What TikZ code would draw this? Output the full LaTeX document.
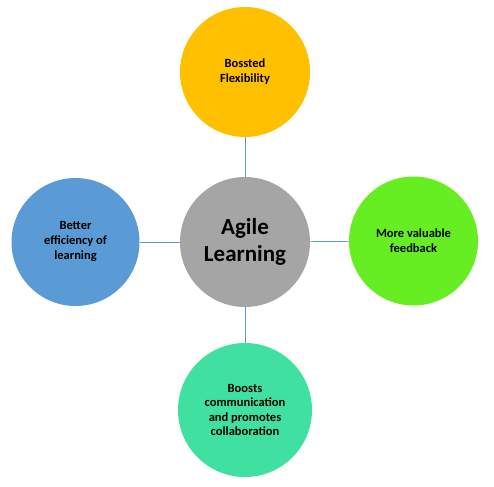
\documentclass[tikz,border=0pt]{standalone}
\usepackage{fontspec}
\setmainfont{Carlito}
\definecolor{cTop}{HTML}{FFC000}
\definecolor{cMid}{HTML}{A5A5A5}
\definecolor{cLeft}{HTML}{5B9BD5}
\definecolor{cRight}{HTML}{66EE22}
\definecolor{cBot}{HTML}{40E0A0}
\definecolor{cLine}{HTML}{5B9BD5}
\begin{document}
\begin{tikzpicture}[x=1pt,y=-1pt,
  bubble/.style={circle,minimum size=130pt,inner sep=0pt,align=center,
    font=\bfseries\fontsize{12.5}{15}\selectfont,text=black},
  link/.style={draw=cLine,line width=0.7pt}]
\useasboundingbox (0,0) rectangle (494,486);
\node[bubble,fill=cMid,font=\bfseries\fontsize{23}{27}\selectfont] (mid) at (245,242) {Agile\\Learning};
\node[bubble,fill=cTop] (top) at (245,72) {Bossted\\Flexibility};
\node[bubble,fill=cLeft,minimum size=128pt] (left) at (75.5,242) {Better\\efficiency of\\learning};
\node[bubble,fill=cRight,minimum size=129pt] (right) at (413.5,241) {More valuable\\feedback};
\node[bubble,fill=cBot,minimum size=134pt,font=\bfseries\fontsize{12.5}{14.5}\selectfont] (bot) at (245,410) {Boosts\\communication\\and promotes\\collaboration};
\draw[link] (mid) -- (top);
\draw[link] (mid) -- (bot);
\draw[link] (mid) -- (left);
\draw[link] (mid) -- (right);
\end{tikzpicture}
\end{document}
